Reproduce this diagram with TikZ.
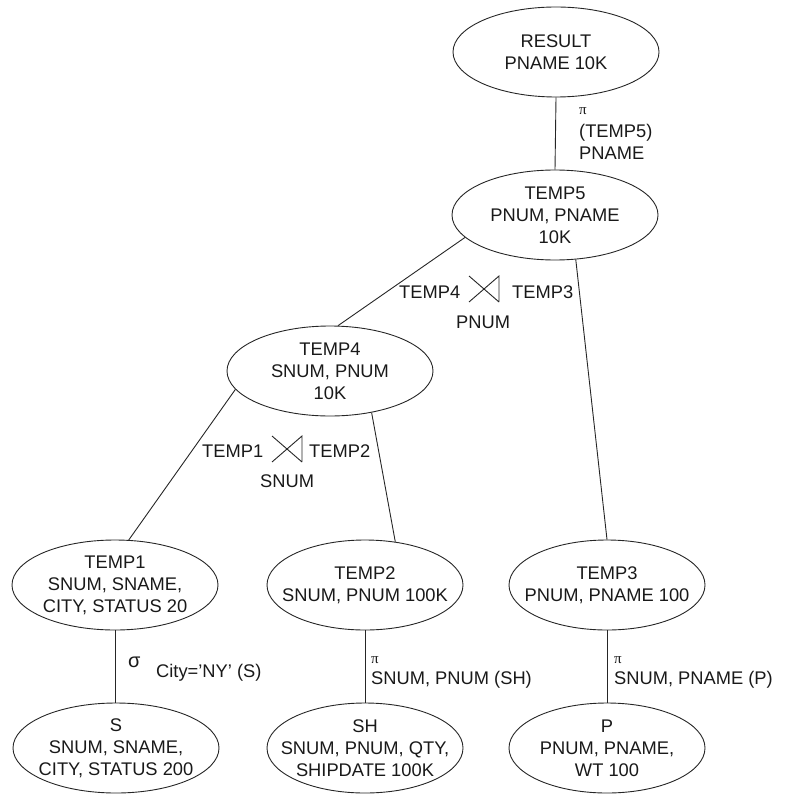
\documentclass[tikz,border=0pt]{standalone}
\usepackage{fontspec}
\setmainfont{Liberation Sans}
\newfontfamily\serifgr{Liberation Serif}
\usetikzlibrary{shapes.geometric}
\tikzset{
  ell/.style={ellipse, draw=black!85, line width=0.9pt, minimum width=206pt, minimum height=90pt,
    inner xsep=-20pt, inner ysep=0pt, align=center, font=\fontsize{18.3}{22}\selectfont, text=black!90},
  ellN/.style={ell, minimum width=196pt},
  lbl/.style={inner sep=0pt, anchor=base west, font=\fontsize{18.3}{22}\selectfont, text=black!90},
  pilbl/.style={inner sep=0pt, anchor=base west, font=\serifgr\fontsize{15}{18}\selectfont, text=black!90},
  siglbl/.style={lbl, font=\fontsize{20}{22}\selectfont},
  conn/.style={draw=black!85, line width=0.9pt},
  joinsym/.style={draw=black!85, line width=0.9pt}
}
\begin{document}
\begin{tikzpicture}[x=1pt,y=-1pt]
\useasboundingbox (0,0) rectangle (799,794);
% ellipses
\node[ell]  (result) at (556,52)  {RESULT\\PNAME 10K};
\node[ell]  (temp5)  at (555,215) {TEMP5\\PNUM, PNAME\\10K};
\node[ell]  (temp4)  at (330,371) {TEMP4\\SNUM, PNUM\\10K};
\node[ell]  (temp1)  at (115,585) {TEMP1\\SNUM, SNAME,\\CITY, STATUS 20};
\node[ellN] (temp2)  at (365,585) {TEMP2\\SNUM, PNUM 100K};
\node[ellN] (temp3)  at (607,585) {TEMP3\\PNUM, PNAME 100};
\node[ell]  (s)      at (116,748) {S\\SNUM, SNAME,\\CITY, STATUS 200};
\node[ellN] (sh)     at (365,748) {SH\\SNUM, PNUM, QTY,\\SHIPDATE 100K};
\node[ellN] (p)      at (607,748) {P\\PNUM, PNAME,\\WT 100};
% connectors
\draw[conn] (result.south) -- (temp5.north);
\draw[conn] (temp5.194) -- (temp4.80);
\draw[conn] (temp5.-65) -- (temp3.north);
\draw[conn] (temp4.191) -- (temp1.73);
\draw[conn] (temp4.-45) -- (temp2.55);
\draw[conn] (temp1.south) -- (temp1.south |- s.north);
\draw[conn] (temp2.south) -- (sh.north);
\draw[conn] (temp3.south) -- (p.north);
% labels
\node[pilbl] (pi1) at (579,115) {π};
\node[lbl] (l1a) at (579,138) {(TEMP5)};
\node[lbl] (l1b) at (579,160) {PNAME};
\node[lbl] (j1l) at (399,298) {TEMP4};
\node[lbl] (j1r) at (512,298) {TEMP3};
\node[lbl] (j1b) at (456,328) {PNUM};
\draw[joinsym] (469,276) -- (499,302) (469,302) -- (499,276) -- (499,302);
\node[lbl] (j2l) at (202,457) {TEMP1};
\node[lbl] (j2r) at (309,457) {TEMP2};
\node[lbl] (j2b) at (260,487) {SNUM};
\draw[joinsym] (272,436) -- (302,462) (272,462) -- (302,436) -- (302,462);
\node[siglbl] (sig) at (128,667) {σ};
\node[lbl] (sel) at (156,677) {City=’NY’ (S)};
\node[pilbl] (pi2) at (371,663) {π};
\node[lbl] (pr2) at (371,684) {SNUM, PNUM (SH)};
\node[pilbl] (pi3) at (614,663) {π};
\node[lbl] (pr3) at (614,684) {SNUM, PNAME (P)};
\end{tikzpicture}
\end{document}
